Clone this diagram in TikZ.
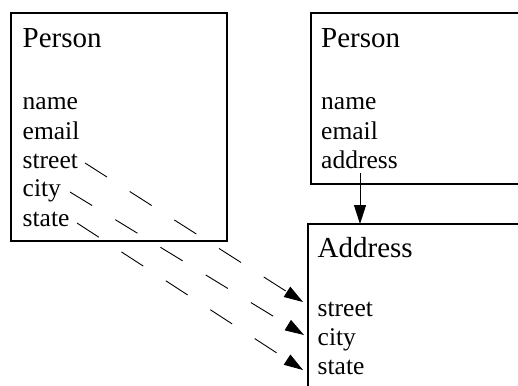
\documentclass[tikz,border=0pt]{standalone}
\usepackage{fontspec}
\setmainfont{Liberation Serif}
\usetikzlibrary{arrows.meta}
\begin{document}
\begin{tikzpicture}[x=1pt,y=-1pt,
  classbox/.style={draw, line width=1.1pt, inner sep=0pt, outer sep=0pt, anchor=north west},
  title/.style={inner sep=0pt, anchor=base west, font=\fontsize{29}{34}\selectfont},
  attr/.style={inner sep=0pt, anchor=base west, font=\fontsize{25.5}{29}\selectfont},
  link/.style={line width=0.9pt, -{Triangle[length=19pt,width=12pt]}},
  moved/.style={link, dash pattern=on 26pt off 27pt}]
\useasboundingbox (0,0) rectangle (518,385);
\clip (0,0) rectangle (518,385);
\fill[white] (0,0) rectangle (518,385);

% Person with flattened address fields
\node[classbox, minimum width=216pt, minimum height=228pt] (flatbox) at (11,13) {};
\node[title] (flatname) at (22.5,48) {Person};
\node[attr] (fname)   at (22.5,110) {name};
\node[attr] (femail)  at (22.5,139) {email};
\node[attr] (fstreet) at (22.5,168) {street};
\node[attr] (fcity)   at (22.5,196) {city};
\node[attr] (fstate)  at (22.5,226) {state};

% Person referencing a separate Address
\node[classbox, minimum width=230pt, minimum height=171pt] (refbox) at (311,13) {};
\node[title] (refname) at (321,48) {Person};
\node[attr] (rname)    at (321,110) {name};
\node[attr] (remail)   at (321,139) {email};
\node[attr] (raddress) at (321,168) {address};

% Address class
\node[classbox, minimum width=240pt, minimum height=200pt] (addrbox) at (308,224) {};
\node[title] (addrname) at (317.5,257) {Address};
\node[attr] (astreet) at (317.5,316) {street};
\node[attr] (acity)   at (317.5,345) {city};
\node[attr] (astate)  at (317.5,374) {state};

% reference from address field to the Address class
\coordinate (refstart) at (360,173);
\draw[link] (refstart) -- (refstart |- addrbox.north);

% fields moved into the Address class
\coordinate (s1) at (85,163);
\coordinate (t1) at (303,302);
\coordinate (s2) at (70,192);
\coordinate (t2) at (304,335);
\coordinate (s3) at (77,223);
\coordinate (t3) at (303,370);
\draw[moved] (s1) -- (t1);
\draw[moved] (s2) -- (t2);
\draw[moved] (s3) -- (t3);
\end{tikzpicture}
\end{document}
